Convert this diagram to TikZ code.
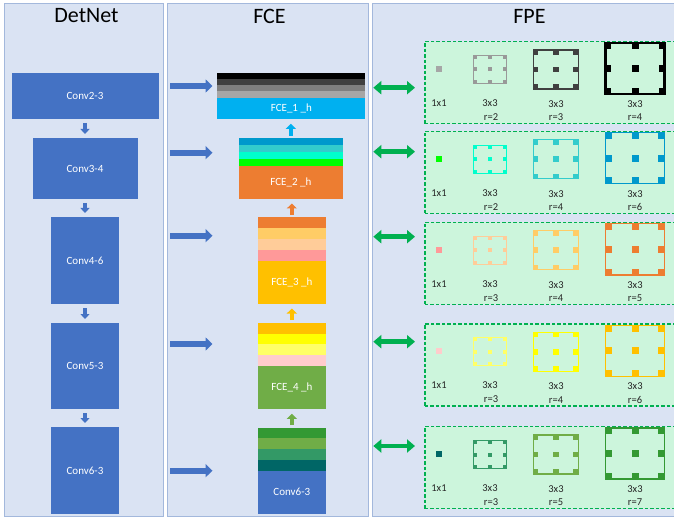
\documentclass[tikz,border=0pt]{standalone}
\usepackage{fontspec}
\setmainfont{Carlito}
\usetikzlibrary{arrows.meta,positioning}
\definecolor{PanelFill}{HTML}{DAE3F3}
\definecolor{PanelLine}{HTML}{A3B8DC}
\definecolor{ConvBlue}{HTML}{4472C4}
\definecolor{FCEOneBlue}{HTML}{00B0F0}
\definecolor{FPEGreen}{HTML}{00B050}
\definecolor{FPEFill}{HTML}{CCF5DC}
\definecolor{LabelInk}{HTML}{262626}
\definecolor{GrayA}{HTML}{404040}
\definecolor{GrayB}{HTML}{7F7F7F}
\definecolor{GrayC}{HTML}{A6A6A6}
\definecolor{GrayK}{HTML}{999999}
\definecolor{CyanA}{HTML}{0099CC}
\definecolor{CyanB}{HTML}{33CCCC}
\definecolor{CyanC}{HTML}{00FFCC}
\definecolor{LimeA}{HTML}{00FF00}
\definecolor{OrangeA}{HTML}{ED7D31}
\definecolor{OrangeB}{HTML}{FFCC66}
\definecolor{OrangeC}{HTML}{FFCC99}
\definecolor{PinkA}{HTML}{FF9999}
\definecolor{GoldA}{HTML}{FFC000}
\definecolor{YellowA}{HTML}{FFFF00}
\definecolor{YellowB}{HTML}{FFFF66}
\definecolor{PinkB}{HTML}{FFCCCC}
\definecolor{GreenA}{HTML}{339933}
\definecolor{GreenB}{HTML}{70AD47}
\definecolor{GreenC}{HTML}{339966}
\definecolor{TealA}{HTML}{006666}

\begin{document}
\begin{tikzpicture}[
  x=1pt, y=-1pt,
  panel/.style={draw=PanelLine, fill=PanelFill, line width=0.8pt, inner sep=0pt},
  title/.style={font=\fontsize{22}{26}\selectfont, text=black},
  conv/.style={fill=ConvBlue, text=white, font=\fontsize{11}{13}\selectfont,
               inner sep=0pt, outer sep=0pt},
  stripe/.style={fill=#1, inner sep=0pt, outer sep=0pt},
  fceblock/.style={fill=#1, text=white, font=\fontsize{11}{13}\selectfont,
                   inner sep=0pt, outer sep=0pt},
  convdown/.style={draw=ConvBlue, line width=4pt, -{Triangle[length=5pt,width=9pt]},
                   shorten <=4pt, shorten >=4pt},
  fceup/.style={draw=#1, line width=4.5pt, -{Triangle[length=5pt,width=10pt]},
                shorten <=2.5pt, shorten >=4.5pt},
  fceinput/.style={draw=ConvBlue, line width=6pt, -{Triangle[length=7pt,width=13pt]}},
  fpelink/.style={draw=FPEGreen, line width=4.5pt,
                  {Triangle[length=8pt,width=13pt]}-{Triangle[length=8pt,width=13pt]}},
  fpebox/.style={draw=FPEGreen, fill=FPEFill, line width=1.2pt,
                 dash pattern=on 3.5pt off 2pt, inner sep=0pt},
  one/.style={fill=#1, minimum size=6pt, inner sep=0pt},
  kframe/.style={draw=#1, inner sep=0pt},
  kdot/.style={fill=#1, inner sep=0pt, outer sep=0pt},
  klabel/.style={font=\fontsize{10.5}{12}\selectfont, text=LabelInk, inner sep=0pt}
]
  \clip (0,0) rectangle (674,521);
  \fill[white] (0,0) rectangle (674,521);

  % Panels
  \node[panel, minimum width=159.5pt, minimum height=513pt] (pdet) at (83.75,259.5) {};
  \node[panel, minimum width=200.7pt, minimum height=513pt] (pfce) at (267.65,259.5) {};
  \node[panel, minimum width=330pt, minimum height=513pt, anchor=north west] (pfpe) at (372,3) {};
  \node[title] (tdet) at (86.5,16) {DetNet};
  \node[title] (tfce) at (269.5,16) {FCE};
  \node[title] (tfpe) at (529.5,16) {FPE};

  % DetNet backbone
  \node[conv, minimum width=147pt, minimum height=46pt] (c23) at (85,96)    {Conv2-3};
  \node[conv, minimum width=105pt, minimum height=61pt] (c34) at (85,168.5) {Conv3-4};
  \node[conv, minimum width=68pt,  minimum height=87pt] (c46) at (85,260.5) {Conv4-6};
  \node[conv, minimum width=68pt,  minimum height=86pt] (c53) at (85,366)   {Conv5-3};
  \node[conv, minimum width=68pt,  minimum height=87pt] (c63) at (85,470.5) {Conv6-3};
  \draw[convdown] (c23) -- (c34);
  \draw[convdown] (c34) -- (c46);
  \draw[convdown] (c46) -- (c53);
  \draw[convdown] (c53) -- (c63);

  % FCE stacks (stripes, then the main block)
  \foreach \cx/\w/\top/\h/\hm/\ca/\cb/\cc/\cd/\cm/\lab [count=\s] in {
      291.3/148/72.7/6.25/21.6/black/GrayA/GrayB/GrayC/FCEOneBlue/FCE\_1 \_h,
      290.85/103.7/138.3/6.85/33.3/CyanA/CyanB/CyanC/LimeA/OrangeA/FCE\_2 \_h,
      291.85/67.7/217.3/11/42.7/OrangeA/OrangeB/OrangeC/PinkA/GoldA/FCE\_3 \_h,
      291.85/67.7/322.7/10.83/43.3/GoldA/YellowA/YellowB/PinkB/GreenB/FCE\_4 \_h,
      291.85/67.7/427.7/10.75/43/GreenA/GreenB/GreenC/TealA/ConvBlue/Conv6-3} {
    \foreach \c [count=\i] in {\ca,\cb,\cc,\cd}
      \node[stripe=\c, minimum width=\w pt, minimum height=\h pt]
        (s\s-\i) at (\cx,\top+\h*\i-\h/2) {};
    \node[fceblock=\cm, minimum width=\w pt, minimum height=\hm pt,
          below=0pt of s\s-4] (f\s) {\lab};
  }
  \draw[fceup=FCEOneBlue] (s2-1.north) -- (s2-1.north |- f1.south);
  \draw[fceup=OrangeA]    (s3-1.north) -- (s3-1.north |- f2.south);
  \draw[fceup=GoldA]      (s4-1.north) -- (s4-1.north |- f3.south);
  \draw[fceup=GreenB]     (s5-1.north) -- (s5-1.north |- f4.south);

  % Inputs from DetNet
  \foreach \y [count=\i] in {86,152.7,235.7,344,470.7} {
    \coordinate (in\i) at (170,\y);
    \coordinate (at\i) at (212.5,\y);
    \draw[fceinput] (in\i) -- (at\i);
  }

  % Links to FPE
  \foreach \y [count=\i] in {87.7,151.7,236.7,341.7,446} {
    \coordinate (fl\i) at (373.3,\y);
    \coordinate (fr\i) at (415,\y);
    \draw[fpelink] (fl\i) -- (fr\i);
  }

  % FPE rows: 1x1 and three dilated 3x3 kernels
  \foreach \t/\ca/\cb/\cc/\cd/\ra/\rb/\rc/\w [count=\r] in {
      41/GrayC/GrayK/GrayA/black/2/3/4/2.2,
      130.7/LimeA/CyanC/CyanB/CyanA/2/4/6/1.6,
      221.7/PinkA/OrangeC/OrangeB/OrangeA/3/4/5/1.6,
      323.3/PinkB/YellowB/YellowA/GoldA/3/4/6/1.6,
      426/TealA/GreenC/GreenB/GreenA/3/5/7/1.6} {
    \node[fpebox, minimum width=280pt, minimum height=82pt, anchor=north west]
      (box\r) at (424.3,\t) {};
    \node[one=\ca] (one\r) at (439,\t+28) {};
    \node[klabel] (lone\r) at (439,\t+62) {1x1};
    \node[kframe=\cb, line width=1pt, minimum width=33pt, minimum height=28pt]
      (ka\r) at (490,\t+28.5) {};
    \node[kframe=\cc, line width=1.3pt, minimum width=45pt, minimum height=39pt]
      (kb\r) at (555.8,\t+28.5) {};
    \node[kframe=\cd, line width=\w pt, minimum width=59pt, minimum height=51pt]
      (kc\r) at (635,\t+27.5) {};
    \foreach \a [count=\i] in {north west,north,north east,west,center,east,
                               south west,south,south east} {
      \node[kdot=\cb, minimum size=4pt, anchor=\a] (ka\r-\i) at (ka\r.\a) {};
      \node[kdot=\cc, minimum size=5.5pt, anchor=\a] (kb\r-\i) at (kb\r.\a) {};
      \node[kdot=\cd, minimum size=7pt, anchor=\a] (kc\r-\i) at (kc\r.\a) {};
    }
    \node[klabel] (lka\r) at (490,\t+62)   {3x3};
    \node[klabel] (rka\r) at (491,\t+76)   {r=\ra};
    \node[klabel] (lkb\r) at (556,\t+63)   {3x3};
    \node[klabel] (rkb\r) at (556,\t+76.5) {r=\rb};
    \node[klabel] (lkc\r) at (635,\t+63)   {3x3};
    \node[klabel] (rkc\r) at (635,\t+76.5) {r=\rc};
  }
\end{tikzpicture}
\end{document}
